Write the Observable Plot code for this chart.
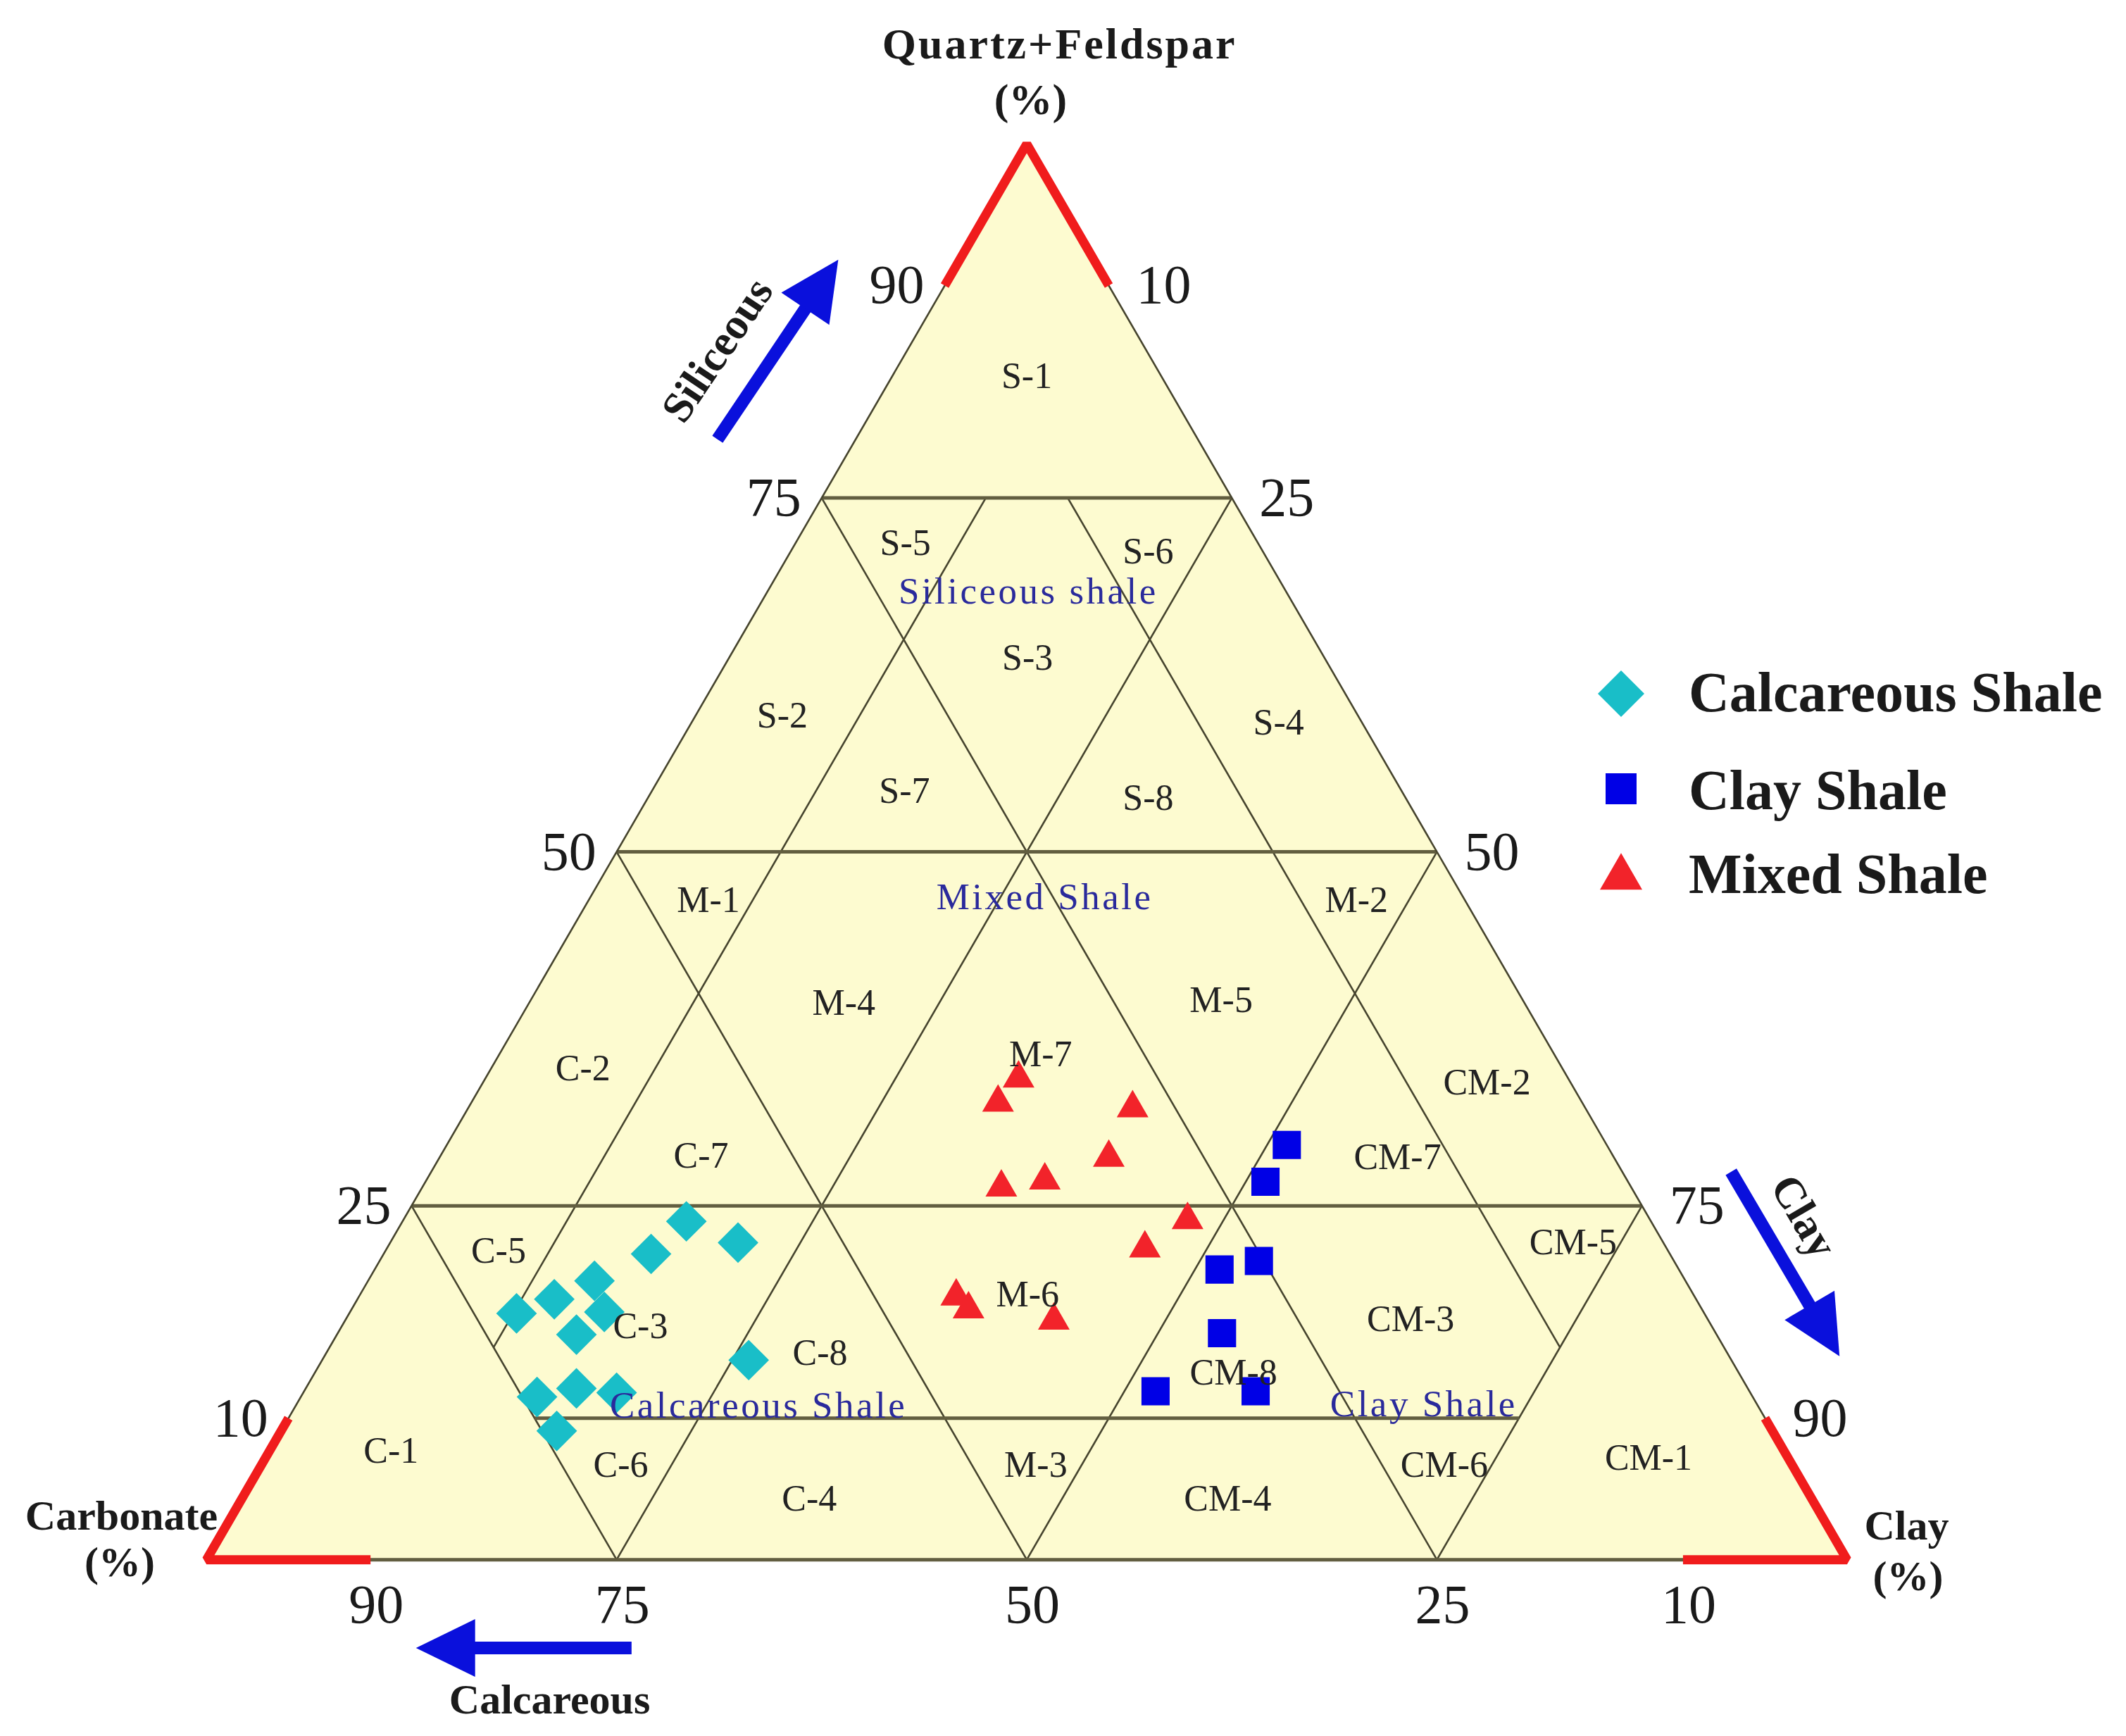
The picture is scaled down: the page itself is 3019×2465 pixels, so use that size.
<!DOCTYPE html>
<html><head><meta charset="utf-8">
<script src="https://cdn.jsdelivr.net/npm/d3@7"></script>
<script src="https://cdn.jsdelivr.net/npm/@observablehq/plot@0.6"></script>
<style>
html,body{margin:0;padding:0;background:#fff;}
#wrap{position:relative;width:3019px;height:2465px;overflow:hidden;}
</style></head>
<body><div id="wrap"></div>
<script>
// ---------------- data ----------------
const seriesNames   = ["Calcareous Shale", "Clay Shale", "Mixed Shale"];
const seriesColors  = ["#19bec8", "#0000e6", "#f2232a"];
const seriesSymbols = ["diamond2", "square", "triangle"];

// sample compositions (%): quartz+feldspar, clay, carbonate
const calcareousQF   = [23.9, 22.4, 21.6, 19.7, 18.4, 17.4, 17.5, 15.9, 14.1, 11.5, 12.1, 11.8, 9.1];
const calcareousClay = [17.3, 21.2, 16.3, 13.8, 12.0, 10.2, 15.5, 14.6, 26.0, 14.4, 16.5, 19.1, 16.8];
const calcareousCarb = [58.8, 56.4, 62.1, 66.5, 69.6, 72.4, 67.0, 69.5, 59.9, 74.1, 71.4, 69.1, 74.1];

const clayShaleQF    = [29.3, 26.7, 21.1, 20.5, 16.0, 11.9, 11.9];
const clayShaleClay  = [51.2, 51.2, 53.6, 51.5, 53.9, 51.9, 58.0];
const clayShaleCarb  = [19.5, 22.1, 25.3, 28.0, 30.1, 36.2, 30.1];

const mixedQF   = [34.0, 32.3, 31.9, 28.4, 26.3, 26.8, 24.0, 22.0, 18.6, 17.7, 16.9];
const mixedClay = [32.5, 32.1, 40.5, 40.8, 35.3, 37.7, 47.8, 46.2, 36.4, 37.6, 43.2];
const mixedCarb = [33.5, 35.6, 27.6, 30.8, 38.4, 35.5, 28.2, 31.8, 45.0, 44.7, 39.9];

// classification boundaries: [QF1, clay1, QF2, clay2]
const isoQF   = [[75, 0, 75, 25], [50, 0, 50, 50], [25, 0, 25, 75], [10, 15, 10, 75]];
const isoDiag = [[75, 0, 0, 75], [50, 0, 0, 50], [25, 0, 0, 25],      // carbonate 25/50/75
                 [75, 25, 0, 25], [50, 50, 0, 50], [25, 75, 0, 75],   // clay 25/50/75
                 [75, 10, 15, 10], [75, 15, 15, 75]];                  // clay 10, carbonate 10
const triCorners = [[0, 0], [100, 0], [0, 100]];   // [QF, clay]: carbonate, QF, clay apexes
const redCorners = [[[90, 0], [100, 0], [90, 10]], [[10, 0], [0, 0], [0, 10]], [[10, 90], [0, 100], [0, 90]]];

// axis tick labels
const qfTicks   = [90, 75, 50, 25, 10];
const clayTicks = [10, 25, 50, 75, 90];
const carbTicks = [90, 75, 50, 25, 10];

// lithofacies zone labels: name, QF, clay
const zoneNames = ["S-1","S-2","S-3","S-4","S-5","S-6","S-7","S-8",
  "M-1","M-2","M-3","M-4","M-5","M-6","M-7",
  "C-1","C-2","C-3","C-4","C-5","C-6","C-7","C-8",
  "CM-1","CM-2","CM-3","CM-4","CM-5","CM-6","CM-7","CM-8"];
const zoneQF   = [83.6,59.6,63.7,59.1,71.8,71.2,54.3,53.8, 46.6,46.6,6.7,39.3,39.5,18.7,35.7,
  7.7,34.7,16.5,4.3,21.8,6.7,28.5,14.6, 7.2,33.7,17.0,4.3,22.4,6.7,28.4,13.2];
const zoneClay = [8.2,5.3,18.2,35.8,6.7,21.8,15.4,30.5, 7.3,46.8,47.2,19.2,42.1,40.7,33.0,
  7.4,5.6,18.2,34.6,6.9,21.9,15.9,30.1, 84.3,61.2,64.9,60.1,72.1,72.1,58.4,56.0];

const groupNames = ["Siliceous shale", "Mixed Shale", "Calcareous Shale", "Clay Shale"];
const groupQF    = [68.4, 46.8, 10.9, 11.0];
const groupClay  = [15.9, 27.7, 28.2, 68.7];

// axis titles (chart x/y in % units of the triangle frame)
const titleText = ["Quartz+Feldspar", "(%)", "Carbonate", "(%)", "Clay", "(%)", "Calcareous"];
const titleX    = [52.0, 50.23, -5.18, -5.29, 103.63, 103.72, 20.92];
const titleY    = [107.04, 103.1, 3.09, -0.19, 2.36, -1.2, -9.89];

// trend arrows
const arrowText  = ["Siliceous", "Clay", ""];
const arrowTextX = [31.15, 97.36, 0];
const arrowTextY = [85.44, 24.24, 0];
const arrowFromX = [31.15, 92.93, 25.91], arrowFromY = [79.14, 27.4, -6.23];
const arrowToX   = [38.51, 99.54, 12.77], arrowToY   = [91.83, 14.37, -6.23];

// ---------------- layout ----------------
const W = 3019, H = 2465;
const ML = 292.7, MR = 396.6, MT = 204, MB = 250.8;
const kx = (W - ML - MR) / 100, ky = (H - MT - MB) / 100;
const FONT = "Liberation Serif, Times New Roman, serif";
const INK = "#1a1a1a";

const tx = (q, c) => c + q / 2;   // ternary -> frame x
const ty = (q) => q;              // ternary -> frame y

const rows = (qf, clay, carb) => qf.map((q, i) => {
  const s = q + clay[i] + carb[i];
  return {qf: 100 * q / s, clay: 100 * clay[i] / s};
});
const series = [rows(calcareousQF, calcareousClay, calcareousCarb),
                rows(clayShaleQF, clayShaleClay, clayShaleCarb),
                rows(mixedQF, mixedClay, mixedCarb)];
const seriesR = [26, 22.6, 16.7];

const segs = (arr) => arr.map(([q1, c1, q2, c2]) => ({x1: tx(q1, c1), y1: ty(q1), x2: tx(q2, c2), y2: ty(q2)}));
const corners = triCorners.map(([q, c]) => ({x: tx(q, c), y: ty(q)}));   // BL, apex, BR (sorted by x)
const redPts = redCorners.flatMap((pts, k) => pts.map(([q, c]) => ({x: tx(q, c), y: ty(q), k})));
const zones = zoneNames.map((n, i) => ({n, x: tx(zoneQF[i], zoneClay[i]), y: ty(zoneQF[i])}));
const groups = groupNames.map((n, i) => ({n, x: tx(groupQF[i], groupClay[i]), y: ty(groupQF[i])}));
const titles = titleText.map((t, i) => ({t, x: titleX[i], y: titleY[i]}));

const arrows = arrowFromX.map((_, i) => {
  const dx = (arrowToX[i] - arrowFromX[i]) * kx, dy = -(arrowToY[i] - arrowFromY[i]) * ky;
  const a = Math.atan2(dy, dx), L = 80;
  return {x1: arrowFromX[i], y1: arrowFromY[i], x2: arrowToX[i], y2: arrowToY[i], a,
          xe: arrowToX[i] - Math.cos(a) * L / kx, ye: arrowToY[i] + Math.sin(a) * L / ky,
          t: arrowText[i], tx: arrowTextX[i], ty: arrowTextY[i], rot: a * 180 / Math.PI};
});
const headSymbol = (a, len, half) => ({draw(ctx) {
  const c = Math.cos(a), s = Math.sin(a), bx = -c * len, by = -s * len;
  ctx.moveTo(0, 0);
  ctx.lineTo(bx - s * half, by + c * half);
  ctx.lineTo(bx + s * half, by - c * half);
  ctx.closePath();
}});
const ARROW = "#0a10dc";

const marks = [
  Plot.areaY(corners, {x: "x", y: "y", fill: "#fdfbd0"}),
  Plot.link(segs(isoDiag), {x1: "x1", y1: "y1", x2: "x2", y2: "y2", stroke: "#46442e", strokeWidth: 2.6}),
  Plot.link(segs(isoQF), {x1: "x1", y1: "y1", x2: "x2", y2: "y2", stroke: "#625e40", strokeWidth: 5}),
  Plot.line([corners[0], corners[1]], {x: "x", y: "y", stroke: "#46442e", strokeWidth: 2.6}),
  Plot.line([corners[1], corners[2]], {x: "x", y: "y", stroke: "#46442e", strokeWidth: 2.6}),
  Plot.line([corners[0], corners[2]], {x: "x", y: "y", stroke: "#625e40", strokeWidth: 5}),
  Plot.line(redPts, {x: "x", y: "y", z: "k", stroke: "#f01c1c", strokeWidth: 13, strokeLinejoin: "miter", strokeLinecap: "butt"}),
  ...series.map((d, i) => Plot.dot(d, {x: (p) => tx(p.qf, p.clay), y: (p) => ty(p.qf), symbol: seriesSymbols[i], fill: seriesColors[i], r: seriesR[i], stroke: "none"})),
  Plot.text(zones, {x: "x", y: "y", text: "n", fontSize: 52, fontFamily: FONT, fill: "#222", lineAnchor: "middle"}),
  Plot.text(groups, {x: "x", y: "y", text: "n", fontSize: 53, fontFamily: FONT, fill: "#2a2a9c", lineAnchor: "middle"}),
  Plot.text(qfTicks, {x: (v) => tx(v, 0), y: (v) => ty(v), text: (v) => String(v), dx: -68, fontSize: 78, fontFamily: FONT, fill: INK, lineAnchor: "middle"}),
  Plot.text(clayTicks, {x: (v) => tx(100 - v, v), y: (v) => ty(100 - v), text: (v) => String(v), dx: 78, fontSize: 78, fontFamily: FONT, fill: INK, lineAnchor: "middle"}),
  Plot.text(carbTicks, {x: (v) => tx(0, 100 - v), y: 0, text: (v) => String(v), dx: 8, dy: 64, fontSize: 78, fontFamily: FONT, fill: INK, lineAnchor: "middle"}),
  Plot.text(titles.slice(0, 2), {x: "x", y: "y", text: "t", fontSize: 62, fontWeight: "bold", fontFamily: FONT, fill: INK, lineAnchor: "middle"}),
  Plot.text(titles.slice(2), {x: "x", y: "y", text: "t", fontSize: 60, fontWeight: "bold", fontFamily: FONT, fill: INK, lineAnchor: "middle"}),
  Plot.link(arrows, {x1: "x1", y1: "y1", x2: "xe", y2: "ye", stroke: ARROW, strokeWidth: 18}),
  ...arrows.map((d) => Plot.dot([d], {x: "x2", y: "y2", symbol: headSymbol(d.a, 84, 41), fill: ARROW, stroke: "none", r: 5})),
  ...arrows.filter((d) => d.t).map((d) => Plot.text([d], {x: "tx", y: "ty", text: "t", rotate: d.rot, fontSize: 62, fontWeight: "bold", fontFamily: FONT, fill: INK, lineAnchor: "middle"}))
];

const svg = Plot.plot({
  width: W, height: H,
  marginLeft: ML, marginRight: MR, marginTop: MT, marginBottom: MB,
  x: {domain: [0, 100], axis: null},
  y: {domain: [0, 100], axis: null},
  style: {fontFamily: FONT, background: "white"},
  marks
});
svg.querySelectorAll("text").forEach((t) => {
  if (t.textContent === "Quartz+Feldspar") t.setAttribute("letter-spacing", "3");
  if (groupNames.includes(t.textContent)) t.setAttribute("letter-spacing", "3.5");
});
document.getElementById("wrap").appendChild(svg);

// ---------------- legend ----------------
const legX = 2302, legTextX = 2398, legY = [985, 1120, 1246], legTextY = [983, 1122, 1241];
const legSize = [2777, 1936, 1559];
const legSym = [d3.symbolDiamond2, d3.symbolSquare, d3.symbolTriangle];
const leg = d3.select("#wrap").append("svg")
  .attr("width", W).attr("height", H)
  .style("position", "absolute").style("left", "0px").style("top", "0px");
seriesNames.forEach((name, i) => {
  leg.append("path").attr("d", d3.symbol(legSym[i], legSize[i])())
    .attr("transform", `translate(${legX},${legY[i]})`).attr("fill", seriesColors[i]);
  leg.append("text").attr("x", legTextX).attr("y", legTextY[i] + 26.5)
    .attr("font-family", FONT).attr("font-size", 80).attr("font-weight", "bold")
    .attr("fill", INK).text(name);
});
</script>
</body></html>
